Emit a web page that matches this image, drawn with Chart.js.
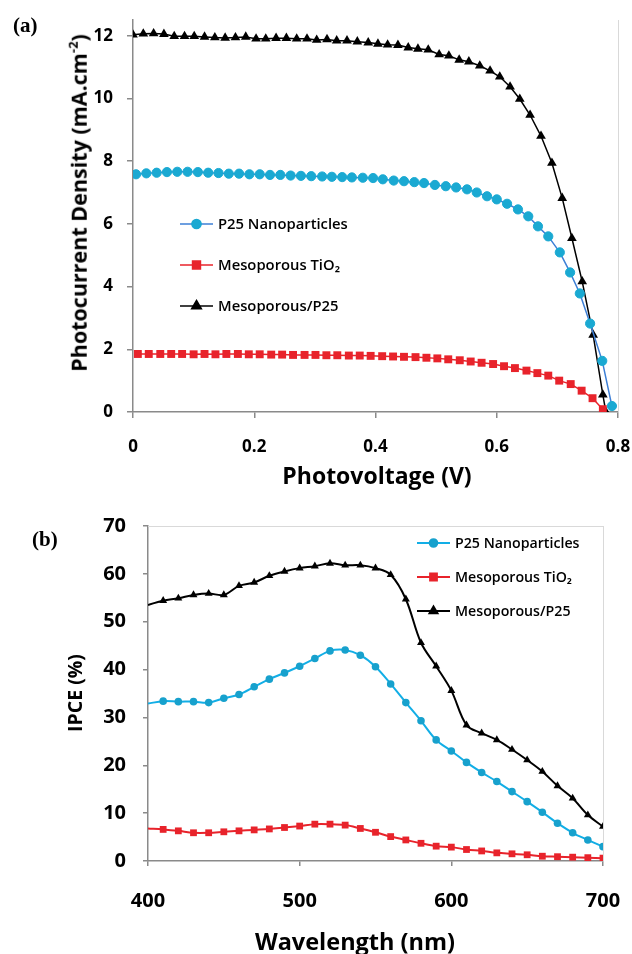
<!DOCTYPE html>
<html>
<head>
<meta charset="utf-8">
<script src="https://cdn.jsdelivr.net/npm/chart.js@4.4.0/dist/chart.umd.min.js"></script>
<style>
  body { margin: 0; background: #fff; width: 632px; height: 954px; position: relative; overflow: hidden; font-family: 'Open Sans', sans-serif; }
  canvas { position: absolute; left: 0; }
  #jv { top: 0; }
  #ipce { top: 480px; }
  .panel { position: absolute; font-family: 'Liberation Serif', serif; font-weight: bold; font-size: 21px; line-height: 1; }
  .title { position: absolute; font-weight: 700; color: #000; white-space: nowrap; line-height: 1; }
  .ytitle { transform: translate(-50%, -50%) rotate(-90deg); }
  .xtitle { transform: translate(-50%, -50%); }
  sup { font-size: 0.6em; vertical-align: 0.7em; }
</style>
</head>
<body>
<canvas id="jv" width="632" height="480"></canvas>
<canvas id="ipce" width="632" height="474"></canvas>

<div class="panel" style="left:13px; top:15px;">(a)</div>
<div class="panel" style="left:32px; top:529px;">(b)</div>
<div class="title ytitle" style="left:78px; top:203px; font-size:21.5px;">Photocurrent Density (mA.cm<sup>-2</sup>)</div>
<div class="title xtitle" style="left:377px; top:475px; font-size:23px;">Photovoltage (V)</div>
<div class="title ytitle" style="left:75px; top:693px; font-size:19.5px;">IPCE (%)</div>
<div class="title xtitle" style="left:355px; top:942px; font-size:23.5px;">Wavelength (nm)</div>

<script>
// (a) J-V curves: voltage (V) and photocurrent density (mA/cm2)
const vP25 = [0.005, 0.022, 0.039, 0.056, 0.073, 0.090, 0.107, 0.124, 0.141, 0.158,
  0.175, 0.192, 0.209, 0.226, 0.243, 0.260, 0.277, 0.294, 0.312, 0.328,
  0.345, 0.361, 0.379, 0.396, 0.412, 0.430, 0.447, 0.464, 0.480, 0.498,
  0.516, 0.533, 0.551, 0.567, 0.584, 0.600, 0.617, 0.635, 0.652, 0.668,
  0.685, 0.704, 0.721, 0.737, 0.754, 0.774, 0.790];
const jP25 = [7.58, 7.61, 7.63, 7.65, 7.66, 7.66, 7.65, 7.63, 7.62, 7.60,
  7.60, 7.58, 7.58, 7.56, 7.56, 7.54, 7.53, 7.52, 7.51, 7.50,
  7.49, 7.48, 7.47, 7.46, 7.42, 7.38, 7.36, 7.33, 7.30, 7.24,
  7.20, 7.16, 7.10, 7.00, 6.88, 6.78, 6.64, 6.46, 6.24, 5.92,
  5.60, 5.09, 4.45, 3.78, 2.82, 1.63, 0.19];

const vMeso = [0.008, 0.026, 0.045, 0.063, 0.081, 0.100, 0.118, 0.136, 0.154, 0.173,
  0.191, 0.209, 0.228, 0.246, 0.264, 0.283, 0.301, 0.319, 0.337, 0.356,
  0.374, 0.392, 0.411, 0.429, 0.447, 0.466, 0.484, 0.502, 0.520, 0.539,
  0.557, 0.575, 0.594, 0.612, 0.630, 0.649, 0.667, 0.685, 0.703, 0.722,
  0.740, 0.758, 0.775];
const jMeso = [1.85, 1.85, 1.85, 1.85, 1.85, 1.84, 1.85, 1.84, 1.85, 1.85,
  1.84, 1.84, 1.83, 1.83, 1.82, 1.82, 1.82, 1.81, 1.81, 1.80,
  1.80, 1.79, 1.78, 1.77, 1.76, 1.75, 1.73, 1.71, 1.68, 1.65,
  1.61, 1.57, 1.53, 1.46, 1.40, 1.32, 1.24, 1.16, 1.00, 0.89,
  0.68, 0.44, 0.09];

const vMix = [0, 0.017, 0.034, 0.051, 0.068, 0.085, 0.101, 0.118, 0.135, 0.152,
  0.169, 0.186, 0.203, 0.219, 0.236, 0.253, 0.270, 0.287, 0.303, 0.320,
  0.336, 0.353, 0.370, 0.388, 0.404, 0.420, 0.437, 0.454, 0.470, 0.487,
  0.505, 0.521, 0.538, 0.554, 0.572, 0.589, 0.605, 0.622, 0.638, 0.655,
  0.673, 0.691, 0.708, 0.724, 0.741, 0.759, 0.775, 0.780];
const jMix = [12.03, 12.06, 12.07, 12.05, 11.98, 11.98, 11.98, 11.96, 11.94, 11.93,
  11.94, 11.96, 11.90, 11.90, 11.92, 11.92, 11.90, 11.90, 11.86, 11.88,
  11.84, 11.84, 11.81, 11.78, 11.74, 11.71, 11.70, 11.62, 11.58, 11.55,
  11.40, 11.36, 11.23, 11.17, 11.04, 10.88, 10.69, 10.37, 9.98, 9.47,
  8.80, 7.94, 6.82, 5.54, 4.16, 2.46, 0.55, 0];

// (b) IPCE spectra
const wavelength = [400, 410, 420, 430, 440, 450, 460, 470, 480, 490,
  500, 510, 520, 530, 540, 550, 560, 570, 580, 590,
  600, 610, 620, 630, 640, 650, 660, 670, 680, 690, 700];
const ipceP25 = [32.9, 33.4, 33.3, 33.3, 33.1, 34.0, 34.8, 36.4, 38.0, 39.3,
  40.7, 42.3, 43.9, 44.1, 43.0, 40.6, 37.0, 33.1, 29.3, 25.3,
  23.0, 20.6, 18.5, 16.6, 14.5, 12.4, 10.2, 7.9, 5.9, 4.4, 3.0];
const ipceMeso = [6.8, 6.6, 6.3, 5.9, 5.9, 6.1, 6.3, 6.5, 6.7, 7.0,
  7.3, 7.7, 7.7, 7.5, 6.8, 6.0, 5.1, 4.4, 3.7, 3.1,
  2.9, 2.4, 2.1, 1.7, 1.5, 1.3, 1.0, 0.9, 0.8, 0.7, 0.6];
const ipceMix = [53.5, 54.4, 54.9, 55.6, 55.9, 55.6, 57.5, 58.2, 59.6, 60.5,
  61.2, 61.6, 62.2, 61.8, 61.8, 61.2, 59.8, 54.7, 45.6, 40.7,
  35.6, 28.4, 26.7, 25.3, 23.3, 21.1, 18.7, 15.7, 13.1, 9.6, 7.2];

const seriesNames = ["P25 Nanoparticles", "Mesoporous TiO\u2082", "Mesoporous/P25"];
const xTicksA = [0, 0.2, 0.4, 0.6, 0.8];
const yTicksA = [0, 2, 4, 6, 8, 10, 12];

const axisGray = "#8a8a8a";
const frameGray = "#d9d9d9";

function pairs(xs, ys) {
  return xs.map((x, i) => ({ x: x, y: ys[i] }));
}

// keep the plot area where the layout padding puts it
function noEdgePadding(s) {
  s.paddingLeft = 0;
  s.paddingRight = 0;
  s.paddingTop = 0;
  s.paddingBottom = 0;
}

// draws legend rows (line + marker + label) inside the plot
const lineLegend = {
  id: "lineLegend",
  afterDatasetsDraw(chart, args, opts) {
    const ctx = chart.ctx;
    ctx.save();
    chart.data.datasets.forEach((ds, i) => {
      const y = opts.y + i * opts.gap;
      ctx.strokeStyle = ds.borderColor;
      ctx.lineWidth = ds.borderWidth;
      ctx.beginPath();
      ctx.moveTo(opts.x, y);
      ctx.lineTo(opts.x + opts.len, y);
      ctx.stroke();
      ctx.fillStyle = ds.pointBackgroundColor;
      ctx.strokeStyle = ds.pointBackgroundColor;
      Chart.helpers.drawPoint(ctx, { pointStyle: ds.pointStyle, radius: opts.radius[i], borderWidth: 1, rotation: 0 }, opts.x + opts.len / 2, y);
      ctx.fillStyle = "#000";
      ctx.font = opts.font;
      ctx.textBaseline = "middle";
      ctx.fillText(ds.label, opts.x + opts.len + 5, y + 1);
    });
    ctx.restore();
  }
};

// light frame lines on chosen sides of the plot area
const frame = {
  id: "frame",
  beforeDatasetsDraw(chart, args, opts) {
    const a = chart.chartArea;
    const ctx = chart.ctx;
    ctx.save();
    ctx.strokeStyle = frameGray;
    ctx.lineWidth = 1;
    ctx.beginPath();
    if (opts.top) { ctx.moveTo(a.left, a.top + 0.5); ctx.lineTo(a.right, a.top + 0.5); }
    if (opts.right) { ctx.moveTo(a.right + 0.5, a.top); ctx.lineTo(a.right + 0.5, a.bottom); }
    ctx.stroke();
    ctx.restore();
  }
};

// ---------- (a) ----------
new Chart(document.getElementById("jv"), {
  type: "line",
  data: {
    datasets: [
      {
        label: seriesNames[0],
        data: pairs(vP25, jP25),
        borderColor: "#3d7fd6",
        borderWidth: 1.5,
        pointStyle: "circle",
        pointRadius: 4.6,
        pointBackgroundColor: "#1aa9d2",
        pointBorderColor: "#1aa9d2",
        pointBorderWidth: 1,
        tension: 0
      },
      {
        label: seriesNames[1],
        data: pairs(vMeso, jMeso),
        borderColor: "#e8232b",
        borderWidth: 1.5,
        pointStyle: "rect",
        pointRadius: 5.6,
        pointBackgroundColor: "#e8232b",
        pointBorderColor: "#e8232b",
        pointBorderWidth: 0,
        tension: 0
      },
      {
        label: seriesNames[2],
        data: pairs(vMix, jMix),
        borderColor: "#000",
        borderWidth: 1.5,
        pointStyle: "triangle",
        pointRadius: 5.6,
        pointBackgroundColor: "#000",
        pointBorderColor: "#000",
        pointBorderWidth: 0,
        tension: 0
      }
    ]
  },
  options: {
    responsive: false,
    animation: false,
    layout: { padding: { top: 20, right: 14, left: 0, bottom: 0 } },
    plugins: {
      legend: { display: false },
      tooltip: { enabled: false },
      frame: { right: true },
      lineLegend: { x: 180, y: 224, gap: 41, len: 33, radius: [4.6, 5.6, 5.6], font: "600 14.8px 'Open Sans'" }
    },
    scales: {
      x: {
        type: "linear",
        min: 0,
        max: 0.8,
        afterFit: (s) => { s.height = 68; noEdgePadding(s); },
        afterBuildTicks: (s) => { s.ticks = xTicksA.map((v) => ({ value: v })); },
        ticks: {
          padding: 19,
          color: "#000",
          font: { family: "'Open Sans'", size: 17, weight: "bold" },
          callback: (v) => String(+v.toFixed(1))
        },
        grid: { drawOnChartArea: false, tickLength: 6, color: axisGray, lineWidth: 1.5 },
        border: { color: axisGray, width: 1.5 }
      },
      y: {
        min: 0,
        max: 12.5,
        afterFit: (s) => { s.width = 133; noEdgePadding(s); },
        afterBuildTicks: (s) => { s.ticks = yTicksA.map((v) => ({ value: v })); },
        ticks: {
          padding: 14,
          color: "#000",
          font: { family: "'Open Sans'", size: 17, weight: "bold" }
        },
        grid: { drawOnChartArea: false, tickLength: 6, color: axisGray, lineWidth: 1.5 },
        border: { color: axisGray, width: 1.5 }
      }
    }
  },
  plugins: [frame, lineLegend]
});

// ---------- (b) ----------
const noFirst = (r) => (ctx) => (ctx.dataIndex === 0 ? 0 : r);

new Chart(document.getElementById("ipce"), {
  type: "line",
  data: {
    datasets: [
      {
        label: seriesNames[0],
        data: pairs(wavelength, ipceP25),
        borderColor: "#12aee6",
        borderWidth: 2,
        pointStyle: "circle",
        pointRadius: noFirst(3.8),
        pointBackgroundColor: "#17a1cd",
        pointBorderColor: "#17a1cd",
        pointBorderWidth: 0,
        tension: 0.35
      },
      {
        label: seriesNames[1],
        data: pairs(wavelength, ipceMeso),
        borderColor: "#e8232b",
        borderWidth: 2,
        pointStyle: "rect",
        pointRadius: noFirst(4.8),
        pointBackgroundColor: "#e8232b",
        pointBorderColor: "#e8232b",
        pointBorderWidth: 0,
        tension: 0.35
      },
      {
        label: seriesNames[2],
        data: pairs(wavelength, ipceMix),
        borderColor: "#000",
        borderWidth: 2,
        pointStyle: "triangle",
        pointRadius: noFirst(4.6),
        pointBackgroundColor: "#000",
        pointBorderColor: "#000",
        pointBorderWidth: 0,
        tension: 0.35
      }
    ]
  },
  options: {
    responsive: false,
    animation: false,
    layout: { padding: { top: 46, right: 29, left: 0, bottom: 0 } },
    plugins: {
      legend: { display: false },
      tooltip: { enabled: false },
      frame: { top: true, right: true },
      lineLegend: { x: 417, y: 63, gap: 34, len: 33, radius: [3.8, 4.8, 4.6], font: "600 14.2px 'Open Sans'" }
    },
    scales: {
      x: {
        type: "linear",
        min: 400,
        max: 700,
        afterFit: (s) => { s.height = 93; noEdgePadding(s); },
        ticks: {
          stepSize: 100,
          padding: 23,
          color: "#000",
          font: { family: "'Open Sans'", size: 20, weight: "bold" }
        },
        grid: { drawOnChartArea: false, tickLength: 5, color: axisGray, lineWidth: 1.5 },
        border: { color: axisGray, width: 1.5 }
      },
      y: {
        min: 0,
        max: 70,
        afterFit: (s) => { s.width = 148; noEdgePadding(s); },
        ticks: {
          stepSize: 10,
          padding: 17,
          color: "#000",
          font: { family: "'Open Sans'", size: 20, weight: "bold" }
        },
        grid: { drawOnChartArea: false, tickLength: 5, color: axisGray, lineWidth: 1.5 },
        border: { color: axisGray, width: 1.5 }
      }
    }
  },
  plugins: [frame, lineLegend]
});
</script>
</body>
</html>
